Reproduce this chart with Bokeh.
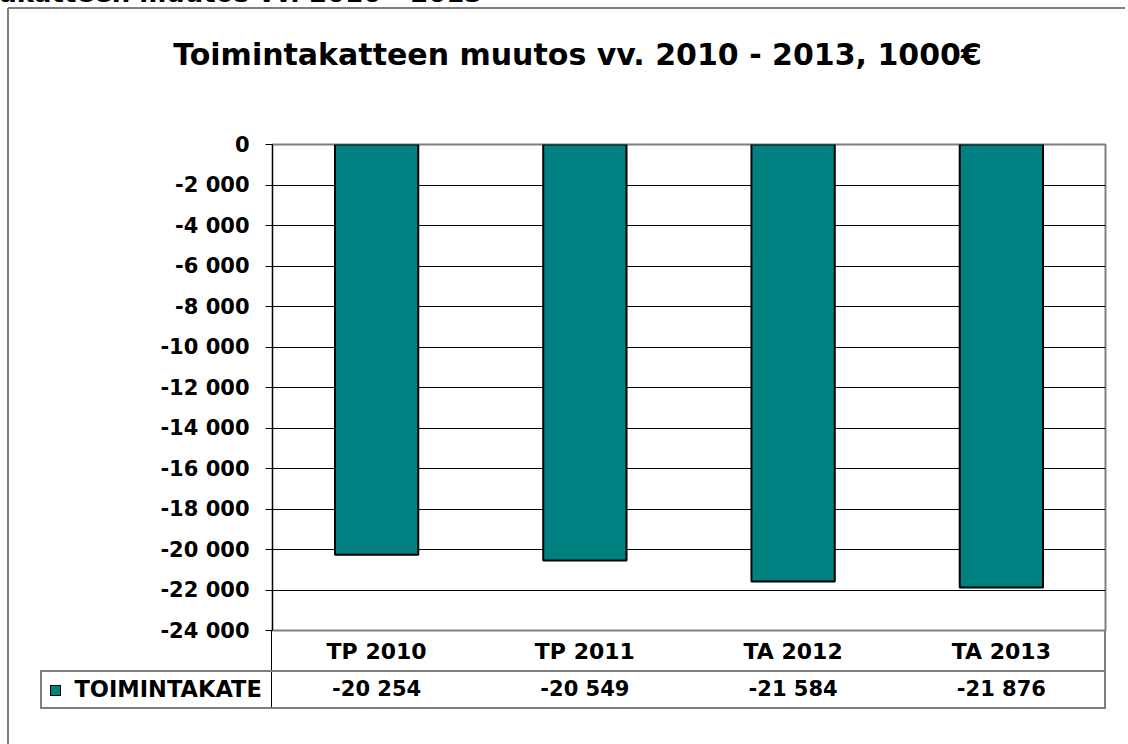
from bokeh.plotting import figure
from bokeh.models import (Range1d, LinearAxis, CustomJSTickFormatter, FixedTicker,
                          SingleIntervalTicker, Label)
from bokeh.embed import file_html
from bokeh.resources import INLINE

# ---- data ----
page_title = "Toimintakatteen muutos vv. 2010 - 2013"
chart_title = "Toimintakatteen muutos vv. 2010 - 2013, 1000€"
series_name = "TOIMINTAKATE"
categories = ["TP 2010", "TP 2011", "TA 2012", "TA 2013"]
values = [-20254, -20549, -21584, -21876]
y_min, y_max, y_step = -24000, 0, 2000


def fmt(v):
    s = f"{abs(v):,}".replace(",", " ")
    return ("-" if v < 0 else "") + s


value_labels = [fmt(v) for v in values]

FONT = "DejaVu Sans"
TEAL = "#008080"
GRAY = "#7f7f7f"
W, H = 1128, 744
L, R, T, B = 272, 1105, 144, 630      # plot-area edges (canvas pixels)
TROW, TBOT, TLEFT = 671, 708, 41      # data-table geometry (canvas pixels)

n = len(categories)
xc = [i + 0.5 for i in range(n)]  # category band centres

p = figure(width=W, height=H, x_range=Range1d(0, n),
           y_range=Range1d(y_min, y_max), output_backend="svg",
           toolbar_location=None)
p.min_border_left = L
p.min_border_right = W - R
p.min_border_top = T
p.min_border_bottom = H - B
p.background_fill_color = "white"
p.border_fill_color = None
p.outline_line_color = GRAY
p.outline_line_width = 2


# chart-area border, data-table grid and legend key drawn as CSS layers
def rect_layer(color, x, y, w, h):
    return f"linear-gradient({color},{color}) {x}px {y}px / {w}px {h}px no-repeat"


layers = [
    rect_layer(TEAL, 51, 686, 9, 9),                       # legend key fill
    rect_layer("#000000", 50, 685, 11, 11),                # legend key outline
    rect_layer(GRAY, TLEFT, TROW - 1, R - TLEFT, 2),       # row separator
    rect_layer(GRAY, TLEFT, TBOT - 1, R - TLEFT + 1, 2),   # table bottom
    rect_layer(GRAY, TLEFT - 1, TROW - 1, 2, TBOT - TROW + 2),
    rect_layer("#000000", L - 1, B, 1, TBOT - B),
    rect_layer(GRAY, R - 1, B, 2, TBOT - B + 1),
    rect_layer(GRAY, 8, 7, W - 8, 2),                      # outer border top
    rect_layer(GRAY, 7, 8, 2, H - 8),                      # outer border left
]
p.styles = {"background": ", ".join(layers) + ", #ffffff",
            "clip-path": "inset(0px 3px 0px 0px)"}

# helper ranges mapping the frame to its own canvas pixel positions
p.extra_x_ranges = {"px": Range1d(L, R)}
p.extra_y_ranges = {"px": Range1d(B, T)}

# bars
p.vbar(x=xc, top=values, bottom=0, width=0.4,
       fill_color=TEAL, line_color="black", line_width=2)

# y axis
yax = p.yaxis[0]
yax.ticker = SingleIntervalTicker(interval=y_step, num_minor_ticks=0)
yax.formatter = CustomJSTickFormatter(code=r"""
const a = Math.abs(tick).toFixed(0).replace(/\B(?=(\d{3})+(?!\d))/g, " ");
return (tick < 0 ? "-" : "") + a;
""")
yax.axis_line_color = "black"
yax.axis_line_width = 1
yax.major_tick_line_color = "black"
yax.major_tick_out = 7
yax.major_tick_in = 0
yax.minor_tick_line_color = None
yax.major_label_standoff = 16
yax.major_label_text_font = FONT
yax.major_label_text_font_style = "bold"
yax.major_label_text_font_size = "21px"
yax.major_label_text_color = "black"

p.ygrid.grid_line_color = "black"
p.ygrid.grid_line_width = 1
p.xgrid.visible = False


def style_row_axis(ax, standoff, size):
    ax.ticker = FixedTicker(ticks=xc)
    ax.axis_line_color = None
    ax.major_tick_line_color = None
    ax.minor_tick_line_color = None
    ax.major_tick_out = 0
    ax.major_tick_in = 0
    ax.major_label_standoff = standoff
    ax.major_label_text_font = FONT
    ax.major_label_text_font_style = "bold"
    ax.major_label_text_font_size = size
    ax.major_label_text_color = "black"


# category row (x axis) and values row (second axis) of the data table
xax = p.xaxis[0]
style_row_axis(xax, 8, "22px")
xax.formatter = CustomJSTickFormatter(args=dict(labels=categories),
                                      code="return labels[Math.round(tick - 0.5)];")

vax = LinearAxis()
style_row_axis(vax, 10, "21px")
vax.formatter = CustomJSTickFormatter(args=dict(labels=value_labels),
                                      code="return labels[Math.round(tick - 0.5)];")
p.add_layout(vax, "below")


def label(x, y, text, size, align="left"):
    # y is the wanted baseline; the renderer puts the baseline ~0.4 em lower
    lab = Label(x=x, y=y - 0.4 * size, text=text, x_range_name="px", y_range_name="px",
                text_font=FONT, text_font_style="bold", text_font_size=f"{size}px",
                text_align=align, text_baseline="alphabetic", text_color="black")
    p.add_layout(lab, "above")


label(74, 697, series_name, 22.5)
label(577, 66, chart_title, 30, align="center")
label(482, 3, page_title, 26, align="right")

open("out.html", "w").write(file_html(p, INLINE))
